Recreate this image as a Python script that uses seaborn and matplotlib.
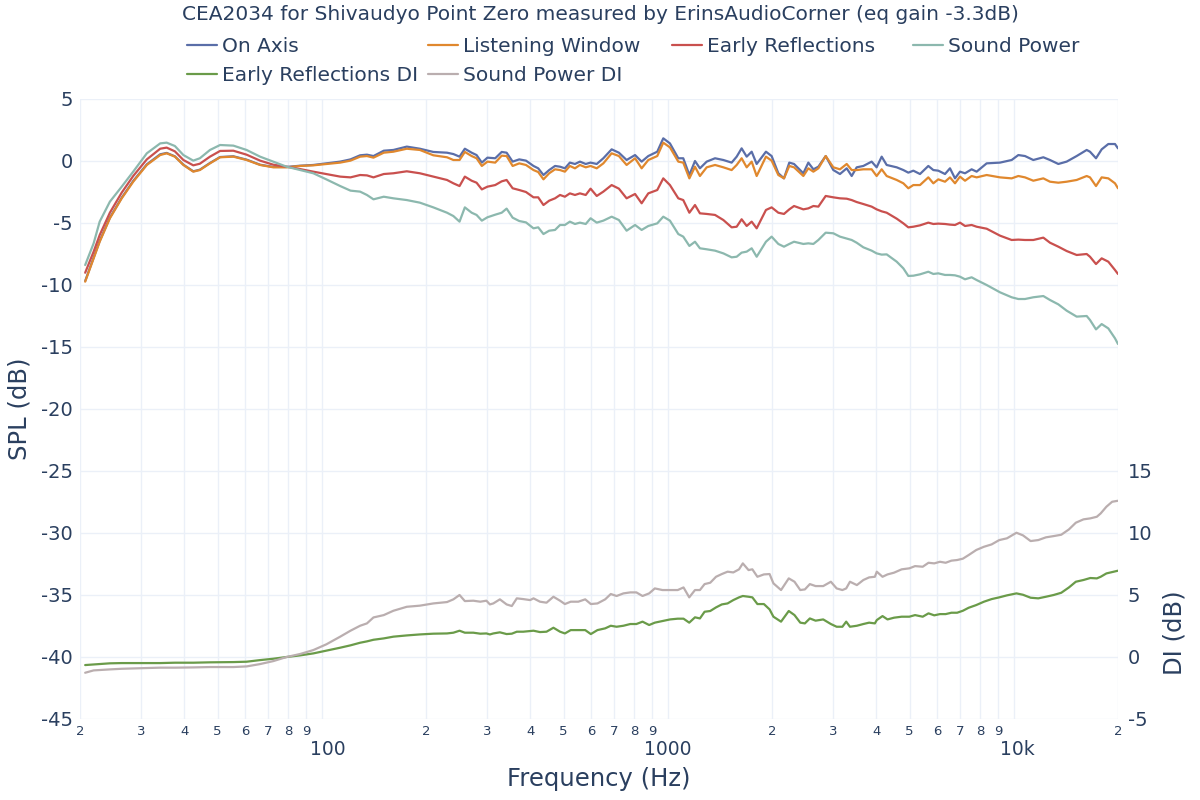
import pandas as pd
import numpy as np
import matplotlib
matplotlib.use("Agg")
import matplotlib.pyplot as plt
from matplotlib.ticker import FixedLocator, FixedFormatter, FuncFormatter
from matplotlib.transforms import ScaledTranslation
from matplotlib.lines import Line2D
import seaborn as sns

# Frequencies (Hz) of the SPL curves
freq = [20.7, 21.9, 22.8, 24.4, 26.4, 28.5, 31.2, 34.1, 35.6, 37.6,
        39.8, 42.5, 44.4, 47.5, 50.8, 55.5, 60.6, 66.3, 72.4, 79.1,
        86.5, 94.5, 103, 113, 121, 129, 135, 141, 151, 161,
        176, 192, 210, 230,
        240, 250, 259, 271, 280, 290, 301, 317, 331, 342,
        356, 372, 389, 409, 422, 437, 454, 472, 488, 504,
        521, 539, 557, 579, 598, 623, 651, 688, 722, 760,
        804, 840, 878, 932, 970, 1014, 1072, 1108, 1154, 1198,
        1238, 1295, 1369, 1447, 1529, 1581, 1634, 1690, 1747, 1806,
        1921, 1995, 2086, 2166, 2244, 2316, 2464, 2547, 2634, 2723,
        2859, 3008, 3144,
        3288, 3399, 3514, 3673, 3882, 4013, 4150, 4290, 4586, 4794,
        4955, 5123, 5355, 5660, 5852, 6049, 6325, 6538, 6760, 6988,
        7226, 7551, 7807, 8345, 9120, 9855, 10304, 10770, 11384, 12168,
        12720, 13446, 14212, 15190, 16238, 16599, 17276, 17940, 18752, 19604, 20000]

on_axis = [-9.68, -7.80, -6.45, -4.57, -2.96, -1.61, -0.27, 0.54, 0.65, 0.38,
           -0.30, -0.83, -0.70, -0.16, 0.32, 0.38, 0.11, -0.30, -0.48, -0.48,
           -0.38, -0.32, -0.19, -0.05, 0.13, 0.46, 0.51, 0.40, 0.83, 0.89,
           1.16, 0.99, 0.73, 0.67,
           0.56, 0.35, 0.99, 0.67, 0.48, -0.13, 0.27, 0.22, 0.73, 0.67,
           -0.05, 0.13, 0.03, -0.40, -0.59, -1.13, -0.73, -0.40, -0.46, -0.59,
           -0.13, -0.24, -0.05, -0.24, -0.13, -0.24, 0.22, 0.94, 0.67, 0.08,
           0.48, -0.05, 0.40, 0.75, 1.83, 1.42, 0.22, 0.22, -1.13, 0.00,
           -0.59, -0.05, 0.22, 0.08, -0.13, 0.35, 1.02, 0.35, 0.75, -0.24,
           0.75, 0.40, -0.99, -1.40, -0.13, -0.24, -0.99, -0.13, -0.67, -0.46,
           0.40, -0.73, -1.05,
           -0.59, -1.21, -0.51, -0.40, -0.05, -0.51, 0.35, -0.32, -0.51, -0.73,
           -0.94, -0.78, -1.05, -0.40, -0.73, -0.78, -1.05, -0.59, -1.40, -0.86,
           -0.99, -0.67, -0.86, -0.19, -0.13, 0.08, 0.48, 0.40, 0.08, 0.30,
           0.08, -0.24, -0.05, 0.40, 0.89, 0.75, 0.22, 0.94, 1.37, 1.37, 1.02]

listening_window = [-9.73, -7.85, -6.51, -4.62, -3.01, -1.67, -0.32, 0.48, 0.62, 0.35,
                    -0.32, -0.86, -0.73, -0.19, 0.30, 0.35, 0.08, -0.32, -0.51, -0.51,
                    -0.40, -0.35, -0.24, -0.13, 0.03, 0.35, 0.40, 0.27, 0.67, 0.75,
                    0.99, 0.89, 0.46, 0.30,
                    0.08, 0.08, 0.73, 0.40, 0.22, -0.40, -0.05, -0.13, 0.43, 0.40,
                    -0.40, -0.19, -0.32, -0.73, -0.89, -1.48, -0.99, -0.67, -0.73, -0.86,
                    -0.40, -0.59, -0.32, -0.51, -0.40, -0.59, -0.19, 0.62, 0.40, -0.32,
                    0.22, -0.59, 0.08, 0.40, 1.48, 1.10, -0.05, -0.13, -1.40, -0.46,
                    -1.21, -0.51, -0.32, -0.51, -0.73, -0.32, 0.22, -0.51, -0.05, -1.21,
                    0.35, 0.03, -1.13, -1.40, -0.40, -0.51, -1.21, -0.59, -0.86, -0.59,
                    0.40, -0.51, -0.67,
                    -0.24, -0.73, -0.73, -0.67, -0.67, -1.21, -0.67, -1.21, -1.53, -1.80,
                    -2.20, -1.94, -1.94, -1.32, -1.80, -1.48, -1.67, -1.32, -1.80, -1.26,
                    -1.59, -1.21, -1.32, -1.13, -1.32, -1.40, -1.21, -1.32, -1.59, -1.40,
                    -1.67, -1.75, -1.67, -1.53, -1.21, -1.32, -2.02, -1.32, -1.40, -1.80, -2.20]

early_reflections = [-9.01, -7.31, -5.97, -4.17, -2.55, -1.21, 0.13, 0.99, 1.08, 0.78,
                     0.08, -0.35, -0.22, 0.35, 0.81, 0.83, 0.51, 0.03, -0.30, -0.46,
                     -0.65, -0.86, -1.05, -1.26, -1.32, -1.13, -1.16, -1.32, -1.05, -0.99,
                     -0.83, -0.99, -1.26, -1.53,
                     -1.80, -2.02, -1.26, -1.59, -1.75, -2.29, -2.07, -1.94, -1.64, -1.53,
                     -2.20, -2.34, -2.50, -2.93, -2.93, -3.55, -3.20, -3.01, -2.74, -2.88,
                     -2.61, -2.74, -2.61, -2.74, -2.23, -2.82, -2.47, -1.94, -2.23, -3.01,
                     -2.66, -3.41, -2.61, -2.34, -1.40, -1.94, -3.01, -3.15, -4.17, -3.55,
                     -4.22, -4.27, -4.35, -4.76, -5.35, -5.30, -4.70, -5.24, -4.89, -5.43,
                     -3.95, -3.74, -4.17, -4.27, -3.90, -3.63, -3.90, -3.82, -3.63, -3.68,
                     -2.82, -2.93, -3.01,
                     -3.04, -3.15, -3.31, -3.47, -3.68, -3.90, -4.06, -4.17, -4.65, -5.03,
                     -5.35, -5.30, -5.19, -4.97, -5.08, -5.05, -5.08, -5.13, -5.16, -4.97,
                     -5.24, -5.16, -5.30, -5.46, -6.02, -6.37, -6.34, -6.37, -6.37, -6.18,
                     -6.59, -6.91, -7.26, -7.58, -7.50, -7.72, -8.31, -7.85, -8.12, -8.79, -9.11]

sound_power = [-8.39, -6.64, -4.89, -3.28, -2.07, -0.86, 0.62, 1.42, 1.48, 1.21,
               0.48, 0.03, 0.22, 0.89, 1.29, 1.24, 0.89, 0.35, -0.05, -0.46,
               -0.73, -0.99, -1.48, -2.02, -2.39, -2.47, -2.74, -3.09, -2.88, -3.01,
               -3.15, -3.36, -3.74, -4.17,
               -4.44, -4.89, -3.74, -4.17, -4.35, -4.81, -4.54, -4.33, -4.17, -3.84,
               -4.57, -4.84, -4.95, -5.43, -5.35, -5.89, -5.62, -5.56, -5.16, -5.16,
               -4.89, -5.08, -4.97, -5.08, -4.62, -4.97, -4.81, -4.49, -4.76, -5.62,
               -5.16, -5.56, -5.24, -5.03, -4.49, -4.81, -5.89, -6.10, -6.85, -6.51,
               -7.04, -7.12, -7.23, -7.45, -7.77, -7.72, -7.39, -7.31, -7.04, -7.72,
               -6.51, -6.10, -6.69, -6.91, -6.69, -6.51, -6.69, -6.64, -6.69, -6.37,
               -5.78, -5.83, -6.10,
               -6.26, -6.37, -6.59, -6.96, -7.23, -7.45, -7.55, -7.53, -8.12, -8.66,
               -9.27, -9.25, -9.14, -8.93, -9.11, -9.06, -9.19, -9.19, -9.22, -9.33,
               -9.54, -9.38, -9.60, -10.00, -10.59, -10.99, -11.13, -11.13, -10.99, -10.89,
               -11.21, -11.56, -12.07, -12.55, -12.50, -12.82, -13.58, -13.15, -13.50, -14.30, -14.76]

# Frequencies (Hz) of the directivity index curves
freq_di = [20.7, 21.9, 22.8, 24.4, 26.4, 28.5, 31.2, 34.1, 37.6, 42.5,
           47.5, 55.5, 60.6, 66.3, 72.4, 79.1, 86.5, 94.5, 103, 113,
           121, 129, 135, 141, 151, 161, 176, 192, 210, 230,
           240, 250, 259, 274, 287, 299, 306, 313, 327, 342,
           354, 366, 382, 400, 409, 427, 446, 467, 488,
           504, 524, 551, 577, 599, 626, 659, 684, 711, 744,
           779, 811, 845, 883, 917, 965, 1015, 1068, 1110, 1153,
           1198, 1238, 1277, 1326, 1378, 1432, 1488, 1546, 1606, 1647,
           1711, 1755, 1815, 1895, 1968, 2019, 2124, 2236, 2323, 2414,
           2489, 2573, 2673, 2812, 2959, 3075, 3195, 3277, 3360, 3518,
           3674, 3817, 3966, 4017, 4173, 4314, 4505, 4740, 4988, 5182,
           5453, 5667, 5888, 6116, 6353, 6600, 6857, 7124, 7401, 7788,
           8196, 8625, 9075, 9550, 10175, 10625, 11182, 11766, 12380, 13030,
           13710, 14428, 15105, 15893, 16634, 17372, 17822, 18516, 19237, 20000]

early_reflections_di = [-0.65, -0.60, -0.57, -0.51, -0.49, -0.49, -0.49, -0.49, -0.46, -0.46,
                        -0.43, -0.41, -0.38, -0.25, -0.14, 0.00, 0.13, 0.29, 0.51, 0.75,
                        0.94, 1.15, 1.26, 1.39, 1.50, 1.64, 1.74, 1.82, 1.88, 1.90,
                        1.96, 2.12, 1.96, 1.96, 1.88, 1.90, 1.82, 1.90, 1.99, 1.85,
                        1.88, 2.04, 2.04, 2.09, 2.12, 2.01, 2.04, 2.36, 2.04,
                        1.90, 2.17, 2.17, 2.17, 1.85, 2.17, 2.31, 2.52, 2.44, 2.52,
                        2.66, 2.66, 2.85, 2.58, 2.77, 2.90, 3.03, 3.09, 3.09, 2.77,
                        3.20, 3.11, 3.65, 3.71, 4.00, 4.24, 4.32, 4.59, 4.81, 4.92,
                        4.86, 4.81, 4.27, 4.27, 3.84, 3.25, 2.85, 3.71, 3.38, 2.77,
                        2.71, 3.11, 2.93, 3.03, 2.66, 2.44, 2.44, 2.85, 2.44, 2.52,
                        2.66, 2.77, 2.71, 2.98, 3.30, 3.03, 3.17, 3.25, 3.25, 3.38,
                        3.25, 3.52, 3.36, 3.46, 3.46, 3.57, 3.57, 3.73, 3.97, 4.19,
                        4.46, 4.67, 4.81, 4.97, 5.13, 5.02, 4.78, 4.73, 4.86, 5.00,
                        5.18, 5.61, 6.07, 6.21, 6.37, 6.34, 6.47, 6.74, 6.85, 6.96]

sound_power_di = [-1.27, -1.08, -1.05, -1.00, -0.95, -0.92, -0.89, -0.86, -0.86, -0.84,
                  -0.81, -0.81, -0.76, -0.57, -0.33, 0.00, 0.24, 0.56, 1.02, 1.64,
                  2.12, 2.52, 2.71, 3.19, 3.38, 3.73, 4.05, 4.14, 4.32, 4.43,
                  4.65, 5.00, 4.51, 4.54, 4.46, 4.54, 4.24, 4.32, 4.65, 4.24,
                  4.11, 4.73, 4.67, 4.59, 4.73, 4.46, 4.38, 4.86, 4.54,
                  4.27, 4.46, 4.46, 4.65, 4.27, 4.32, 4.65, 5.08, 4.92, 5.13,
                  5.21, 5.21, 4.92, 5.13, 5.53, 5.40, 5.40, 5.40, 5.61, 4.81,
                  5.40, 5.40, 5.88, 5.99, 6.47, 6.69, 6.88, 6.82, 7.07, 7.55,
                  7.01, 7.07, 6.47, 6.66, 6.69, 5.94, 5.40, 6.34, 6.07, 5.40,
                  5.45, 5.88, 5.72, 5.72, 6.07, 5.53, 5.40, 5.53, 6.07, 5.80,
                  6.21, 6.42, 6.47, 6.88, 6.47, 6.66, 6.80, 7.07, 7.15, 7.33,
                  7.28, 7.60, 7.55, 7.68, 7.60, 7.77, 7.82, 7.93, 8.22, 8.63,
                  8.89, 9.08, 9.43, 9.57, 10.02, 9.81, 9.35, 9.43, 9.65, 9.75,
                  9.86, 10.29, 10.83, 11.10, 11.18, 11.31, 11.58, 12.12, 12.52, 12.60]

colors = {
    "On Axis": "#5a6ea8",
    "Listening Window": "#e0882e",
    "Early Reflections": "#c9504e",
    "Sound Power": "#8cb8ae",
    "Early Reflections DI": "#6a9b49",
    "Sound Power DI": "#baaeaf",
}
text_color = "#2a3f5f"
grid_color = "#ebf0f8"

# long tables for seaborn
spl = pd.DataFrame({
    "Frequency": freq,
    "On Axis": on_axis,
    "Listening Window": listening_window,
    "Early Reflections": early_reflections,
    "Sound Power": sound_power,
}).melt(id_vars="Frequency", var_name="Curve", value_name="dB")

di = pd.DataFrame({
    "Frequency": freq_di,
    "Early Reflections DI": early_reflections_di,
    "Sound Power DI": sound_power_di,
}).melt(id_vars="Frequency", var_name="Curve", value_name="dB")

sns.set_theme(style="white")
plt.rcParams["font.family"] = ["DejaVu Sans"]
plt.rcParams["axes.unicode_minus"] = False

fig = plt.figure(figsize=(12, 8), dpi=100)
ax = fig.add_axes([80 / 1200, 81 / 800, 1038 / 1200, 620 / 800])
ax2 = ax.twinx()

sns.lineplot(data=spl, x="Frequency", y="dB", hue="Curve", palette=colors,
             estimator=None, sort=False, lw=1.6, legend=False, ax=ax)
sns.lineplot(data=di, x="Frequency", y="dB", hue="Curve", palette=colors,
             estimator=None, sort=False, lw=1.6, legend=False, ax=ax2)

# x axis: log scale, digit labels between decades
ax.set_xscale("log")
ax.set_xlim(20, 20000)
ax.xaxis.set_major_locator(FixedLocator([100, 1000, 10000]))
ax.xaxis.set_major_formatter(FixedFormatter(["100", "1000", "10k"]))
minor = [m * d for d in (10, 100, 1000) for m in range(2, 10)] + [20000]
ax.xaxis.set_minor_locator(FixedLocator(minor))
ax.xaxis.set_minor_formatter(FuncFormatter(lambda v, p: "%d" % round(v / 10 ** np.floor(np.log10(v)))))
ax.tick_params(axis="x", which="minor", length=0, pad=4, labelsize=9.5, labelcolor=text_color)
ax.tick_params(axis="x", which="major", length=0, pad=15.3, labelsize=13.5, labelcolor=text_color)

# nudge the decade labels a little to the right, as in the original
for tick, dx in zip(ax.xaxis.get_major_ticks(), [6, 0, 4]):
    tick.label1.set_transform(tick.label1.get_transform()
                              + ScaledTranslation(dx / 100, 0, fig.dpi_scale_trans))

# left axis: SPL
ax.set_ylim(-45, 5)
ax.set_yticks(range(-45, 6, 5))
ax.tick_params(axis="y", length=0, pad=5, labelsize=14, labelcolor=text_color)
ax.grid(which="both", axis="x", color=grid_color, lw=1)
ax.grid(which="major", axis="y", color=grid_color, lw=1)
ax.set_axisbelow(True)

# right axis: DI
ax2.set_ylim(-5, 45)
ax2.set_yticks([-5, 0, 5, 10, 15])
ax2.tick_params(axis="y", length=0, pad=7, labelsize=14, labelcolor=text_color)
ax2.grid(False)

for a in (ax, ax2):
    for s in a.spines.values():
        s.set_visible(False)

ax.set_xlabel("Frequency (Hz)", fontsize=17.5, color=text_color)
ax.xaxis.set_label_coords(0.5, -0.077)
ax.set_ylabel("SPL (dB)", fontsize=17.5, color=text_color)
ax.yaxis.set_label_coords(-0.047, 0.5)
ax2.set_ylabel("DI (dB)", fontsize=17.5, color=text_color)
ax2.yaxis.set_label_coords(1.043, 0.139)

fig.text(0.5, 1 - 15 / 800,
         "CEA2034 for Shivaudyo Point Zero measured by ErinsAudioCorner (eq gain -3.3dB)",
         ha="center", va="center", fontsize=14.5, color=text_color)

# legend, laid out in rows like the original
columns = [
    (187, ["On Axis", "Early Reflections DI"]),
    (428, ["Listening Window", "Sound Power DI"]),
    (672, ["Early Reflections"]),
    (913, ["Sound Power"]),
]
for x0, names in columns:
    handles = [Line2D([], [], color=colors[n], lw=1.6) for n in names]
    fig.legend(handles, names, loc="upper left", bbox_to_anchor=(x0 / 1200, 1 - 37 / 800),
               frameon=False, borderpad=0, borderaxespad=0, handlelength=1.5,
               handletextpad=0.25, labelspacing=0.52, fontsize=14.5, labelcolor=text_color)

fig.savefig("out.png", dpi=100)
